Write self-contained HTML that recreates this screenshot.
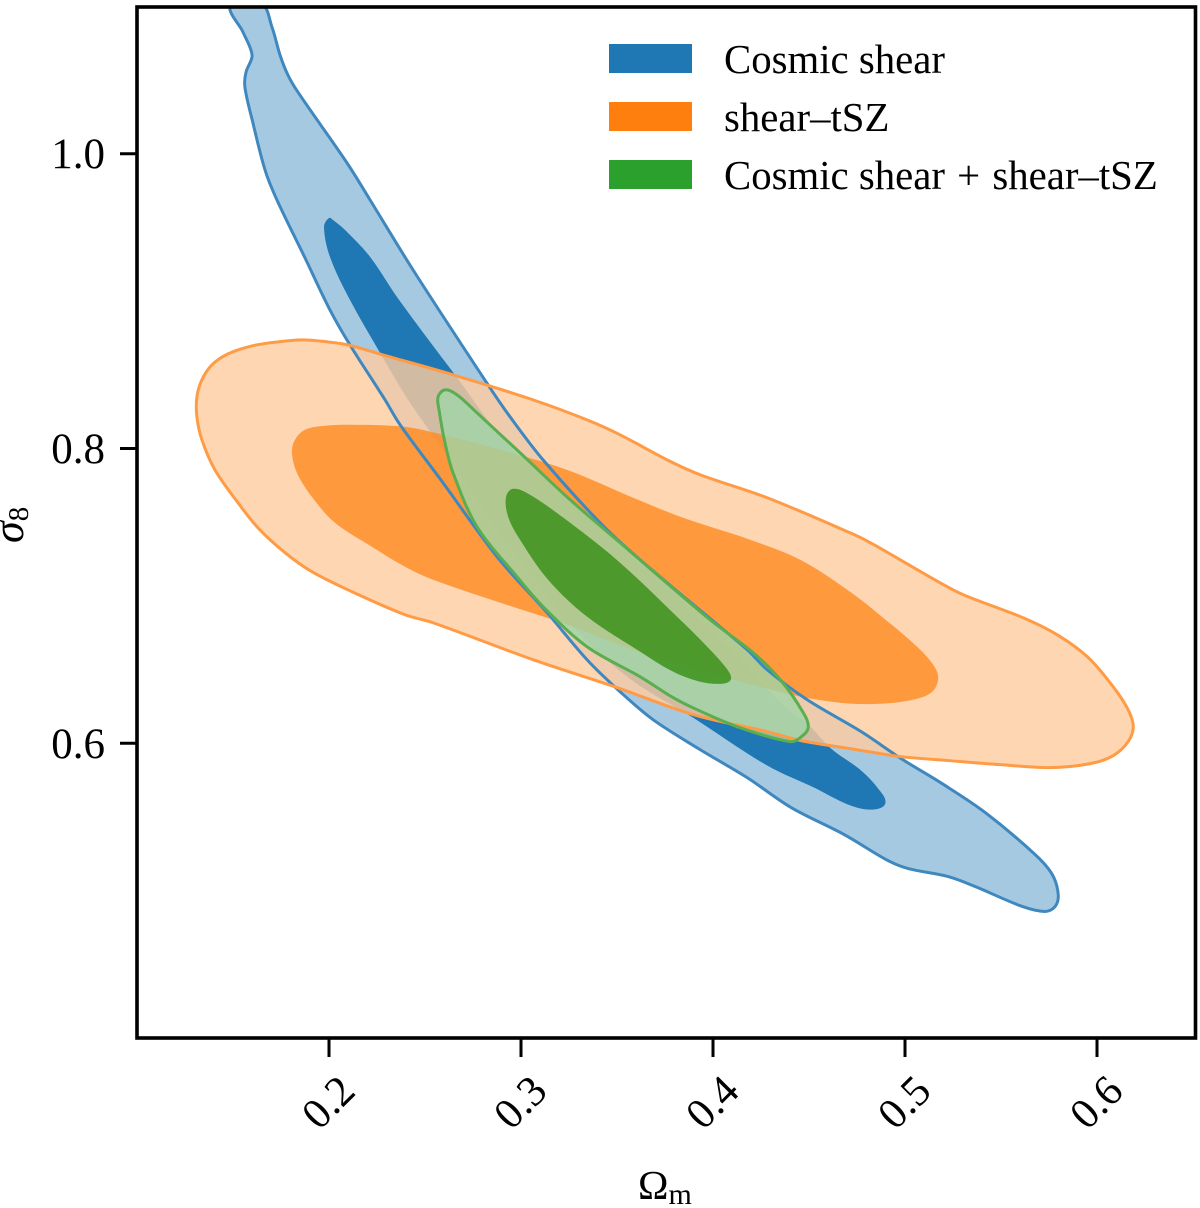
<!DOCTYPE html>
<html lang="en">
<head>
<meta charset="utf-8">
<title>Omega_m vs sigma_8 contours</title>
<style>
html,body{margin:0;padding:0;background:#fff;width:1200px;height:1208px;overflow:hidden}
svg{display:block}
text{font-family:"Liberation Serif","DejaVu Serif",serif;fill:#000}
</style>
</head>
<body>
<svg id="chart" xmlns="http://www.w3.org/2000/svg" width="1200" height="1208" viewBox="0 0 1200 1208">
  <defs>
    <clipPath id="plot-clip"><rect x="137" y="7" width="1058.5" height="1031"/></clipPath>
  </defs>
  <g id="fills" clip-path="url(#plot-clip)"></g>
  <g id="lines" clip-path="url(#plot-clip)"></g>
  <g id="x-ticks"></g>
  <g id="y-ticks"></g>
  <rect x="137" y="7" width="1058.5" height="1031" fill="none" stroke="#000" stroke-width="3.6"/>

  <g>
    <rect x="609" y="44" width="83" height="29" fill="#1f77b4"/>
    <text x="724" y="73" font-size="40.8">Cosmic shear</text>
    <rect x="609" y="102" width="83" height="29" fill="#ff7f0e"/>
    <text x="724" y="131" font-size="40.8">shear–tSZ</text>
    <rect x="609" y="160" width="83" height="29" fill="#2ca02c"/>
    <text x="724" y="189" font-size="40.8">Cosmic shear <tspan dx="2">+</tspan> <tspan dx="2">shear–tSZ</tspan></text>
  </g>

  <text x="638" y="1199" font-size="41">Ω<tspan font-size="30" dy="5">m</tspan></text>
  <text transform="translate(23,543) rotate(-90)" font-size="44"><tspan font-style="italic">σ</tspan><tspan font-size="29" dy="5">8</tspan></text>
</svg>
<script>
// Tick values
const xTickValues = [0.2, 0.3, 0.4, 0.5, 0.6];
const yTickValues = [0.6, 0.8, 1.0];

// Contours, as [Omega_m, sigma_8] pairs
const blueOuter = [[.1490,1.1022],[.1552,1.0825],[.1588,1.0723],[.1599,1.0656],[.1568,1.0554],[.1562,1.0452],[.1604,1.0208],[.1667,.9889],[.1729,.9686],[.1875,.9293],[.2005,.8940],[.2109,.8703],[.2292,.8330],[.2370,.8161],[.2594,.7767],[.2875,.7266],[.3136,.6886],[.3344,.6567],[.3516,.6350],[.3688,.6160],[.3933,.5957],[.4178,.5767],[.4407,.5564],[.4683,.5381],[.4912,.5204],[.5017,.5150],[.5225,.5096],[.5366,.5028],[.5611,.4893],[.5730,.4859],[.5782,.4893],[.5798,.4974],[.5767,.5110],[.5678,.5245],[.5418,.5530],[.5194,.5726],[.4980,.5896],[.4772,.6079],[.4490,.6296],[.4282,.6499],[.4178,.6635],[.3761,.7089],[.3448,.7449],[.3115,.7923],[.2943,.8215],[.2839,.8411],[.2438,.9211],[.2214,.9686],[.2094,.9937],[.1838,1.0418],[.1786,1.0534],[.1745,1.0669],[.1703,1.0859],[.1646,1.1022]];
const blueInner = [[.2000,.9564],[.1974,.9503],[.2005,.9300],[.2109,.9008],[.2266,.8649],[.2412,.8330],[.2594,.7991],[.2891,.7428],[.3240,.6838],[.3553,.6452],[.3896,.6174],[.4282,.5849],[.4527,.5699],[.4704,.5584],[.4824,.5550],[.4897,.5591],[.4860,.5693],[.4772,.5815],[.4615,.5964],[.4506,.6113],[.4365,.6262],[.4105,.6615],[.3725,.7089],[.3448,.7428],[.2943,.8011],[.2656,.8500],[.2354,.9028],[.2214,.9300],[.2083,.9483],[.2021,.9550]];
const orangeOuter = [[.1312,.8215],[.1312,.8350],[.1338,.8466],[.1390,.8567],[.1474,.8642],[.1599,.8696],[.1734,.8723],[.1859,.8737],[.1995,.8723],[.2099,.8703],[.2281,.8635],[.2646,.8500],[.3063,.8330],[.3344,.8194],[.3516,.8093],[.3761,.7923],[.3933,.7822],[.4282,.7666],[.4714,.7428],[.4819,.7361],[.4975,.7245],[.5183,.7089],[.5303,.7008],[.5615,.6852],[.5792,.6737],[.5949,.6588],[.6084,.6384],[.6162,.6228],[.6189,.6113],[.6162,.6011],[.6084,.5916],[.5965,.5862],[.5756,.5835],[.5496,.5855],[.5235,.5882],[.4975,.5910],[.4714,.5964],[.4459,.6018],[.4282,.6079],[.3896,.6195],[.3500,.6378],[.3063,.6567],[.2542,.6818],[.2396,.6872],[.2120,.7028],[.1911,.7164],[.1771,.7293],[.1630,.7462],[.1526,.7632],[.1406,.7855],[.1338,.8059]];
const orangeInner = [[.1807,.7971],[.1823,.8059],[.1875,.8127],[.1979,.8154],[.2120,.8161],[.2396,.8147],[.2594,.8093],[.2891,.7991],[.3240,.7855],[.3584,.7666],[.3844,.7530],[.4193,.7381],[.4454,.7245],[.4714,.7028],[.4886,.6852],[.5063,.6655],[.5147,.6533],[.5173,.6445],[.5142,.6350],[.5043,.6296],[.4886,.6269],[.4714,.6269],[.4542,.6296],[.4365,.6344],[.4105,.6432],[.3584,.6635],[.3240,.6805],[.2891,.6954],[.2542,.7110],[.2396,.7198],[.2224,.7333],[.2031,.7496],[.1911,.7672],[.1833,.7835]];
const greenOuter = [[.2604,.8398],[.2568,.8350],[.2573,.8262],[.2604,.8039],[.2646,.7835],[.2771,.7469],[.2979,.7130],[.3115,.6927],[.3344,.6655],[.3620,.6452],[.3792,.6310],[.3917,.6228],[.4141,.6106],[.4402,.6011],[.4454,.6038],[.4496,.6106],[.4470,.6208],[.4350,.6432],[.4209,.6615],[.3985,.6838],[.3516,.7361],[.3256,.7652],[.2995,.7971],[.2771,.8242],[.2667,.8364]];
const greenInner = [[.2959,.7727],[.2922,.7672],[.2933,.7537],[.2995,.7381],[.3141,.7110],[.3344,.6859],[.3620,.6622],[.3792,.6486],[.3933,.6418],[.4053,.6405],[.4094,.6438],[.4063,.6520],[.3949,.6683],[.3829,.6838],[.3516,.7225],[.3256,.7496],[.3047,.7686]];

// Axis functions
function xScale(v){ return 329 + (v - 0.2) * 1920; }
function yScale(v){ return 153.7 + (1 - v) * 1474; }

const NS = 'http://www.w3.org/2000/svg';

function smoothPath(points){
  const p = points.map(function(d){ return [xScale(d[0]), yScale(d[1])]; });
  const n = p.length;
  const tangents = p.map(function(pt, i){
    const prev = p[(i - 1 + n) % n], next = p[(i + 1) % n];
    const dx = next[0] - prev[0], dy = next[1] - prev[1];
    const len = Math.hypot(dx, dy) || 1;
    return [dx / len, dy / len];
  });
  let out = 'M' + p[0][0].toFixed(2) + ' ' + p[0][1].toFixed(2);
  for (let i = 0; i < n; i++){
    const j = (i + 1) % n;
    const b = p[i], c = p[j];
    const h = Math.hypot(c[0] - b[0], c[1] - b[1]) / 3;
    const c1x = b[0] + tangents[i][0] * h, c1y = b[1] + tangents[i][1] * h;
    const c2x = c[0] - tangents[j][0] * h, c2y = c[1] - tangents[j][1] * h;
    out += 'C' + c1x.toFixed(2) + ' ' + c1y.toFixed(2) + ' ' + c2x.toFixed(2) + ' ' + c2y.toFixed(2) + ' ' + c[0].toFixed(2) + ' ' + c[1].toFixed(2);
  }
  return out + 'Z';
}

function makePath(parent, points, fill, opacity){
  const el = document.createElementNS(NS, 'path');
  el.setAttribute('d', smoothPath(points));
  el.setAttribute('fill', fill);
  el.setAttribute('fill-opacity', opacity);
  parent.appendChild(el);
  return el;
}

function makeLine(parent, points, stroke){
  const el = document.createElementNS(NS, 'path');
  el.setAttribute('d', smoothPath(points));
  el.setAttribute('fill', 'none');
  el.setAttribute('stroke', stroke);
  el.setAttribute('stroke-width', '3');
  el.setAttribute('stroke-linejoin', 'round');
  parent.appendChild(el);
  return el;
}

const fills = document.getElementById('fills');
const lines = document.getElementById('lines');

const fillBlueOuter = makePath(fills, blueOuter, '#90bcdb', 0.8);


const fillBlueInner = makePath(fills, blueInner, '#1f77b4', 1);


const fillOrangeOuter = makePath(fills, orangeOuter, '#ffcc9f', 0.8);


const fillOrangeInner = makePath(fills, orangeInner, '#ff8a20', 0.8);


const fillGreenOuter = makePath(fills, greenOuter, '#a0d6a8', 0.8);


const fillGreenInner = makePath(fills, greenInner, '#348d11', 0.8);



const lineBlue = makeLine(lines, blueOuter, '#3f88bf');


const lineOrange = makeLine(lines, orangeOuter, '#ff9b45');


const lineGreen = makeLine(lines, greenOuter, '#5aae50');



const xTicksGroup = document.getElementById('x-ticks');
xTickValues.forEach(function(v){
  const px = xScale(v);
  const mark = document.createElementNS(NS, 'line');
  
  
  mark.setAttribute('x1', px);
  mark.setAttribute('x2', px);
  mark.setAttribute('y1', 1038);
  mark.setAttribute('y2', 1057);
  mark.setAttribute('stroke', '#000');
  mark.setAttribute('stroke-width', '3');
  xTicksGroup.appendChild(mark);
  const label = document.createElementNS(NS, 'text');
  
  
  label.setAttribute('font-size', '43');
  label.setAttribute('text-anchor', 'middle');
  label.setAttribute('transform', 'translate(' + (px - 1) + ',1102) rotate(-45) translate(0,14.5)');
  label.textContent = v.toFixed(1);
  xTicksGroup.appendChild(label);
});

const yTicksGroup = document.getElementById('y-ticks');
yTickValues.forEach(function(v){
  const py = yScale(v);
  const mark = document.createElementNS(NS, 'line');
  
  
  mark.setAttribute('x1', 120);
  mark.setAttribute('x2', 137);
  mark.setAttribute('y1', py);
  mark.setAttribute('y2', py);
  mark.setAttribute('stroke', '#000');
  mark.setAttribute('stroke-width', '3');
  yTicksGroup.appendChild(mark);
  const label = document.createElementNS(NS, 'text');
  
  
  label.setAttribute('font-size', '43');
  label.setAttribute('text-anchor', 'end');
  label.setAttribute('x', 105);
  label.setAttribute('y', py + 14.5);
  label.textContent = v.toFixed(1);
  yTicksGroup.appendChild(label);
});
</script>
</body>
</html>
